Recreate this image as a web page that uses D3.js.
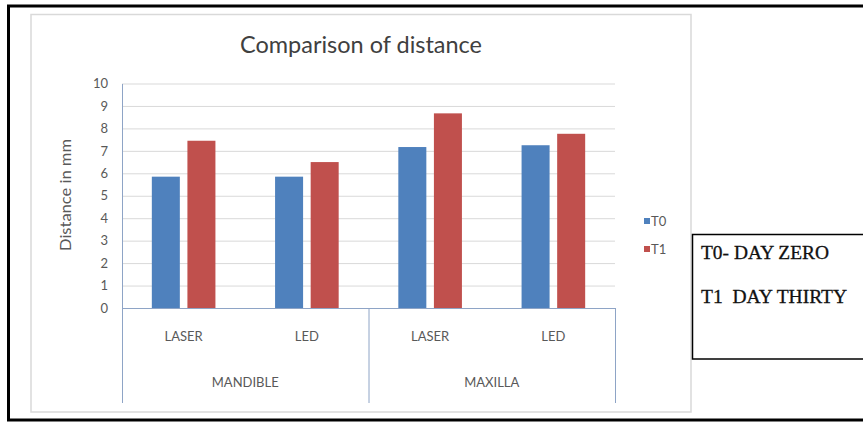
<!DOCTYPE html>
<html>
<head>
<meta charset="utf-8">
<script src="https://cdn.jsdelivr.net/npm/d3@7"></script>
<style>
  html, body { margin: 0; padding: 0; background: #fff; }
  svg { display: block; }
</style>
</head>
<body>
<svg id="chart" width="863" height="423"></svg>
<script>
// ---- data ----
const categories = ["LASER", "LED", "LASER", "LED"];
const groups = ["MANDIBLE", "MAXILLA"];
const seriesNames = ["T0", "T1"];
const t0Values = [5.85, 5.85, 7.17, 7.25];
const t1Values = [7.45, 6.5, 8.67, 7.76];
const yTicks = [0, 1, 2, 3, 4, 5, 6, 7, 8, 9, 10];
const title = "Comparison of distance";
const yTitle = "Distance in mm";
const noteLines = ["T0- DAY ZERO", "T1  DAY THIRTY"];

const colors = { T0: "#4F81BD", T1: "#C0504D" };
const font = "Lato, 'Open Sans', sans-serif";
const textColor = "#595959";
const axisColor = "#8EA4C6";

const svg = d3.select("#chart");

// outer black frame
svg.append("rect")
  .attr("x", 8.5).attr("y", 6).attr("width", 900).attr("height", 414)
  .attr("fill", "none").attr("stroke", "#000").attr("stroke-width", 3);

// chart area
svg.append("rect")
  .attr("x", 31).attr("y", 14.5).attr("width", 660).attr("height", 397.5)
  .attr("fill", "#fff").attr("stroke", "#D9D9D9").attr("stroke-width", 1.5);

// scales
const plot = { left: 122, right: 615, top: 83.5, bottom: 308 };
const x0 = d3.scaleBand().domain(d3.range(categories.length))
  .range([plot.left, plot.right]).paddingInner(0).paddingOuter(0);
const x1 = d3.scaleBand().domain(seriesNames)
  .range([0, x0.bandwidth()]).paddingInner(0.213).paddingOuter(0.838);
const y = d3.scaleLinear().domain([0, 10]).range([plot.bottom, plot.top]);

// gridlines
svg.append("g").selectAll("line").data(yTicks.filter(d => d > 0)).join("line")
  .attr("x1", plot.left).attr("x2", plot.right)
  .attr("y1", d => y(d) + 0.5).attr("y2", d => y(d) + 0.5)
  .attr("stroke", "#D9D9D9").attr("stroke-width", 1);

// y axis
const yAxis = svg.append("g").attr("transform", `translate(${plot.left},0)`)
  .call(d3.axisLeft(y).tickValues(yTicks).tickSize(0).tickPadding(14).tickFormat(d3.format("d")));
yAxis.select(".domain").attr("stroke", axisColor).attr("stroke-width", 1);
yAxis.selectAll("text").attr("font-family", font).attr("font-size", 13)
  .attr("fill", textColor);

// bars
const data = categories.map((c, i) => ({ i, T0: t0Values[i], T1: t1Values[i] }));
const gBars = svg.append("g");
data.forEach(d => {
  seriesNames.forEach(s => {
    gBars.append("rect")
      .attr("x", x0(d.i) + x1(s))
      .attr("y", y(d[s]))
      .attr("width", x1.bandwidth())
      .attr("height", y(0) - y(d[s]))
      .attr("fill", colors[s]);
  });
});

// x axis line
svg.append("line").attr("x1", plot.left).attr("x2", plot.right)
  .attr("y1", plot.bottom + 0.5).attr("y2", plot.bottom + 0.5)
  .attr("stroke", axisColor).attr("stroke-width", 1);

// group separators
const sepX = [0, 2, 4].map(k => k < categories.length ? x0(k) : plot.right);
svg.append("g").selectAll("line").data(sepX).join("line")
  .attr("x1", d => d + 0.5).attr("x2", d => d + 0.5)
  .attr("y1", plot.bottom).attr("y2", 403)
  .attr("stroke", axisColor).attr("stroke-width", 1);

// category labels
svg.append("g").selectAll("text").data(categories).join("text")
  .attr("x", (d, i) => x0(i) + x0.bandwidth() / 2)
  .attr("y", 341)
  .attr("text-anchor", "middle")
  .attr("font-family", font).attr("font-size", 13).attr("fill", textColor)
  .text(d => d);

// group labels
svg.append("g").selectAll("text").data(groups).join("text")
  .attr("x", (d, i) => (x0(i * 2) + x0(i * 2 + 1) + x0.bandwidth()) / 2)
  .attr("y", 387)
  .attr("text-anchor", "middle")
  .attr("font-family", font).attr("font-size", 13).attr("fill", textColor)
  .text(d => d);

// title
svg.append("text")
  .attr("x", 361).attr("y", 53)
  .attr("text-anchor", "middle")
  .attr("font-family", font).attr("font-size", 23).attr("fill", "#404040")
  .attr("textLength", 242).attr("lengthAdjust", "spacingAndGlyphs")
  .text(title);

// y title
svg.append("text")
  .attr("transform", "translate(71,195) rotate(-90)")
  .attr("text-anchor", "middle")
  .attr("font-family", font).attr("font-size", 15).attr("fill", textColor)
  .attr("textLength", 112).attr("lengthAdjust", "spacingAndGlyphs")
  .text(yTitle);

// legend
const legend = svg.append("g");
seriesNames.forEach((s, i) => {
  const ly = 221 + i * 28;
  legend.append("rect").attr("x", 644).attr("y", ly - 3).attr("width", 6).attr("height", 6)
    .attr("fill", colors[s]);
  legend.append("text").attr("x", 651).attr("y", ly + 4.5)
    .attr("font-family", font).attr("font-size", 13).attr("fill", textColor)
    .text(s);
});

// note text box
svg.append("rect")
  .attr("x", 692.5).attr("y", 234.5).attr("width", 200).attr("height", 124.5)
  .attr("fill", "#fff").attr("stroke", "#000").attr("stroke-width", 1.5);
const noteWidths = [128, 146];
svg.append("g").selectAll("text").data(noteLines).join("text")
  .attr("x", 701).attr("y", (d, i) => 259 + i * 44)
  .attr("font-family", "'Liberation Serif', 'DejaVu Serif', serif")
  .attr("font-size", 18).attr("fill", "#111")
  .attr("stroke", "#111").attr("stroke-width", 0.3)
  .attr("textLength", (d, i) => noteWidths[i]).attr("lengthAdjust", "spacingAndGlyphs")
  .attr("xml:space", "preserve").style("white-space", "pre")
  .text(d => d);
</script>
</body>
</html>
